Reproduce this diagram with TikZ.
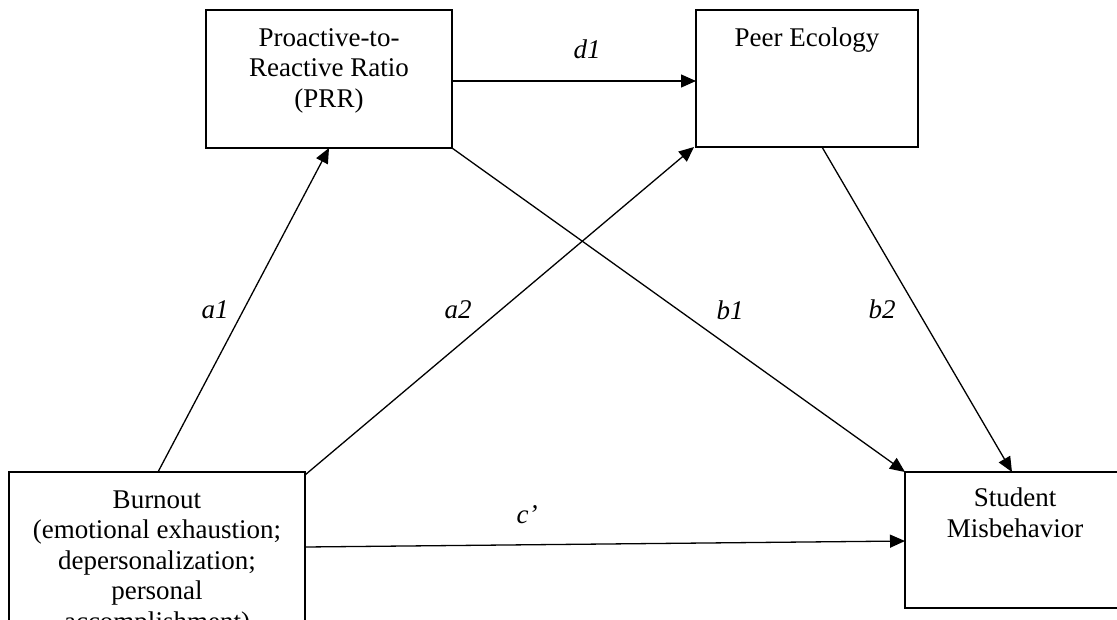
\documentclass[tikz,border=0pt]{standalone}
\usepackage{fontspec}
\setmainfont{Liberation Serif}
\usetikzlibrary{arrows.meta}
\begin{document}
\begin{tikzpicture}[x=1pt,y=-1pt,
  box/.style={draw, line width=2.2pt, rectangle, inner sep=0pt},
  txt/.style={font=\fontsize{27}{30.5}\selectfont, align=center, anchor=base, inner sep=0pt},
  lab/.style={font=\fontsize{27}{30.5}\selectfont\itshape, anchor=base, inner sep=0pt},
  conn/.style={line width=1.3pt, -{Triangle[length=15pt,width=13pt]}}]
\useasboundingbox (0,0) rectangle (1117,619);
\clip (0,0) rectangle (1117,619);
% boxes
\node[box, minimum width=246pt, minimum height=138pt] (prr) at (329,79) {};
\node[box, minimum width=222pt, minimum height=137pt] (peer) at (807,78.5) {};
\node[box, minimum width=296pt, minimum height=228pt] (burn) at (157,586) {};
\node[box, minimum width=220pt, minimum height=136pt] (sm) at (1015,540) {};
% texts (anchored at the baseline of their last line)
\node[txt] (prrt) at (329,107) {Proactive-to-\\Reactive Ratio\\(PRR)};
\node[txt] (peert) at (807,46) {Peer Ecology};
\node[txt] (burnt) at (157,630) {Burnout\\(emotional exhaustion;\\depersonalization;\\personal\\accomplishment)};
\node[txt] (smt) at (1015,537) {Student\\Misbehavior};
% connector end points
\coordinate (a1s) at (158,472);
\coordinate (a1e) at (329,148);
\coordinate (a2s) at (305,475);
\coordinate (a2e) at (694,147);
\coordinate (d1s) at (452,81);
\coordinate (d1e) at (696,81);
\coordinate (b1s) at (452,148);
\coordinate (b1e) at (905,472);
\coordinate (b2s) at (822,147);
\coordinate (b2e) at (1012,472);
\coordinate (cs) at (305,547);
\coordinate (ce) at (905,541);
\draw[conn] (a1s) -- (a1e);
\draw[conn] (a2s) -- (a2e);
\draw[conn] (d1s) -- (d1e);
\draw[conn] (b1s) -- (b1e);
\draw[conn] (b2s) -- (b2e);
\draw[conn] (cs) -- (ce);
% labels
\node[lab] (ld1) at (587,58) {d1};
\node[lab] (la1) at (215,318) {a1};
\node[lab] (la2) at (458,318) {a2};
\node[lab] (lb1) at (730,319) {b1};
\node[lab] (lb2) at (882,318) {b2};
\node[lab] (lc) at (527,523) {c’};
\end{tikzpicture}
\end{document}
